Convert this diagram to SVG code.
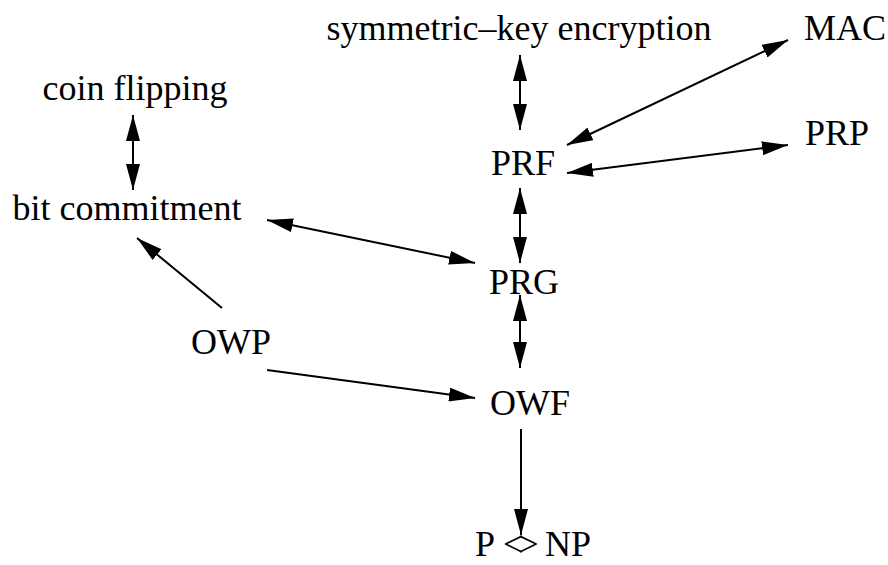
<svg xmlns="http://www.w3.org/2000/svg" width="888" height="565" viewBox="0 0 888 565">
<style>
text{font-family:"Liberation Serif","Times New Roman",serif;font-size:36px;fill:#000}
.c line{stroke:#000;stroke-width:2}
</style>
<defs>
<marker id="ah" markerUnits="userSpaceOnUse" markerWidth="26" markerHeight="14" refX="26" refY="7" orient="auto-start-reverse" viewBox="0 0 26 14">
<path d="M0,0 L26,7 L0,14 z" fill="#000"/>
</marker>
</defs>
<rect width="888" height="565" fill="#fff"/>
<g id="sym"><text x="519" y="40" text-anchor="middle">symmetric–key encryption</text></g>
<g id="mac"><text x="804" y="40">MAC</text></g>
<g id="coin"><text x="135" y="100" text-anchor="middle">coin flipping</text></g>
<g id="prf"><text x="523" y="175" text-anchor="middle">PRF</text></g>
<g id="prp"><text x="837" y="145" text-anchor="middle">PRP</text></g>
<g id="bit"><text x="127" y="220" text-anchor="middle">bit commitment</text></g>
<g id="prg"><text x="524" y="294" text-anchor="middle">PRG</text></g>
<g id="owp"><text x="231" y="354" text-anchor="middle">OWP</text></g>
<g id="owf"><text x="530" y="415" text-anchor="middle">OWF</text></g>
<g id="pnp"><text y="556"><tspan x="475">P </tspan><tspan x="503" letter-spacing="-5">&lt;&gt; </tspan><tspan x="545">NP</tspan></text></g>
<g class="c" id="connectors">
<line x1="520" y1="55" x2="520" y2="130" marker-start="url(#ah)" marker-end="url(#ah)"/>
<line x1="788" y1="40" x2="567" y2="145" marker-start="url(#ah)" marker-end="url(#ah)"/>
<line x1="788" y1="145" x2="567" y2="173" marker-start="url(#ah)" marker-end="url(#ah)"/>
<line x1="133" y1="115" x2="133" y2="190" marker-start="url(#ah)" marker-end="url(#ah)"/>
<line x1="267" y1="220" x2="475" y2="263" marker-start="url(#ah)" marker-end="url(#ah)"/>
<line x1="520" y1="188" x2="520" y2="263" marker-start="url(#ah)" marker-end="url(#ah)"/>
<line x1="520" y1="295" x2="520" y2="368" marker-start="url(#ah)" marker-end="url(#ah)"/>
<line x1="222" y1="308" x2="137" y2="238" marker-end="url(#ah)"/>
<line x1="267" y1="370" x2="475" y2="398" marker-end="url(#ah)"/>
<line x1="521" y1="429" x2="521" y2="535" marker-end="url(#ah)"/>
</g>
</svg>
